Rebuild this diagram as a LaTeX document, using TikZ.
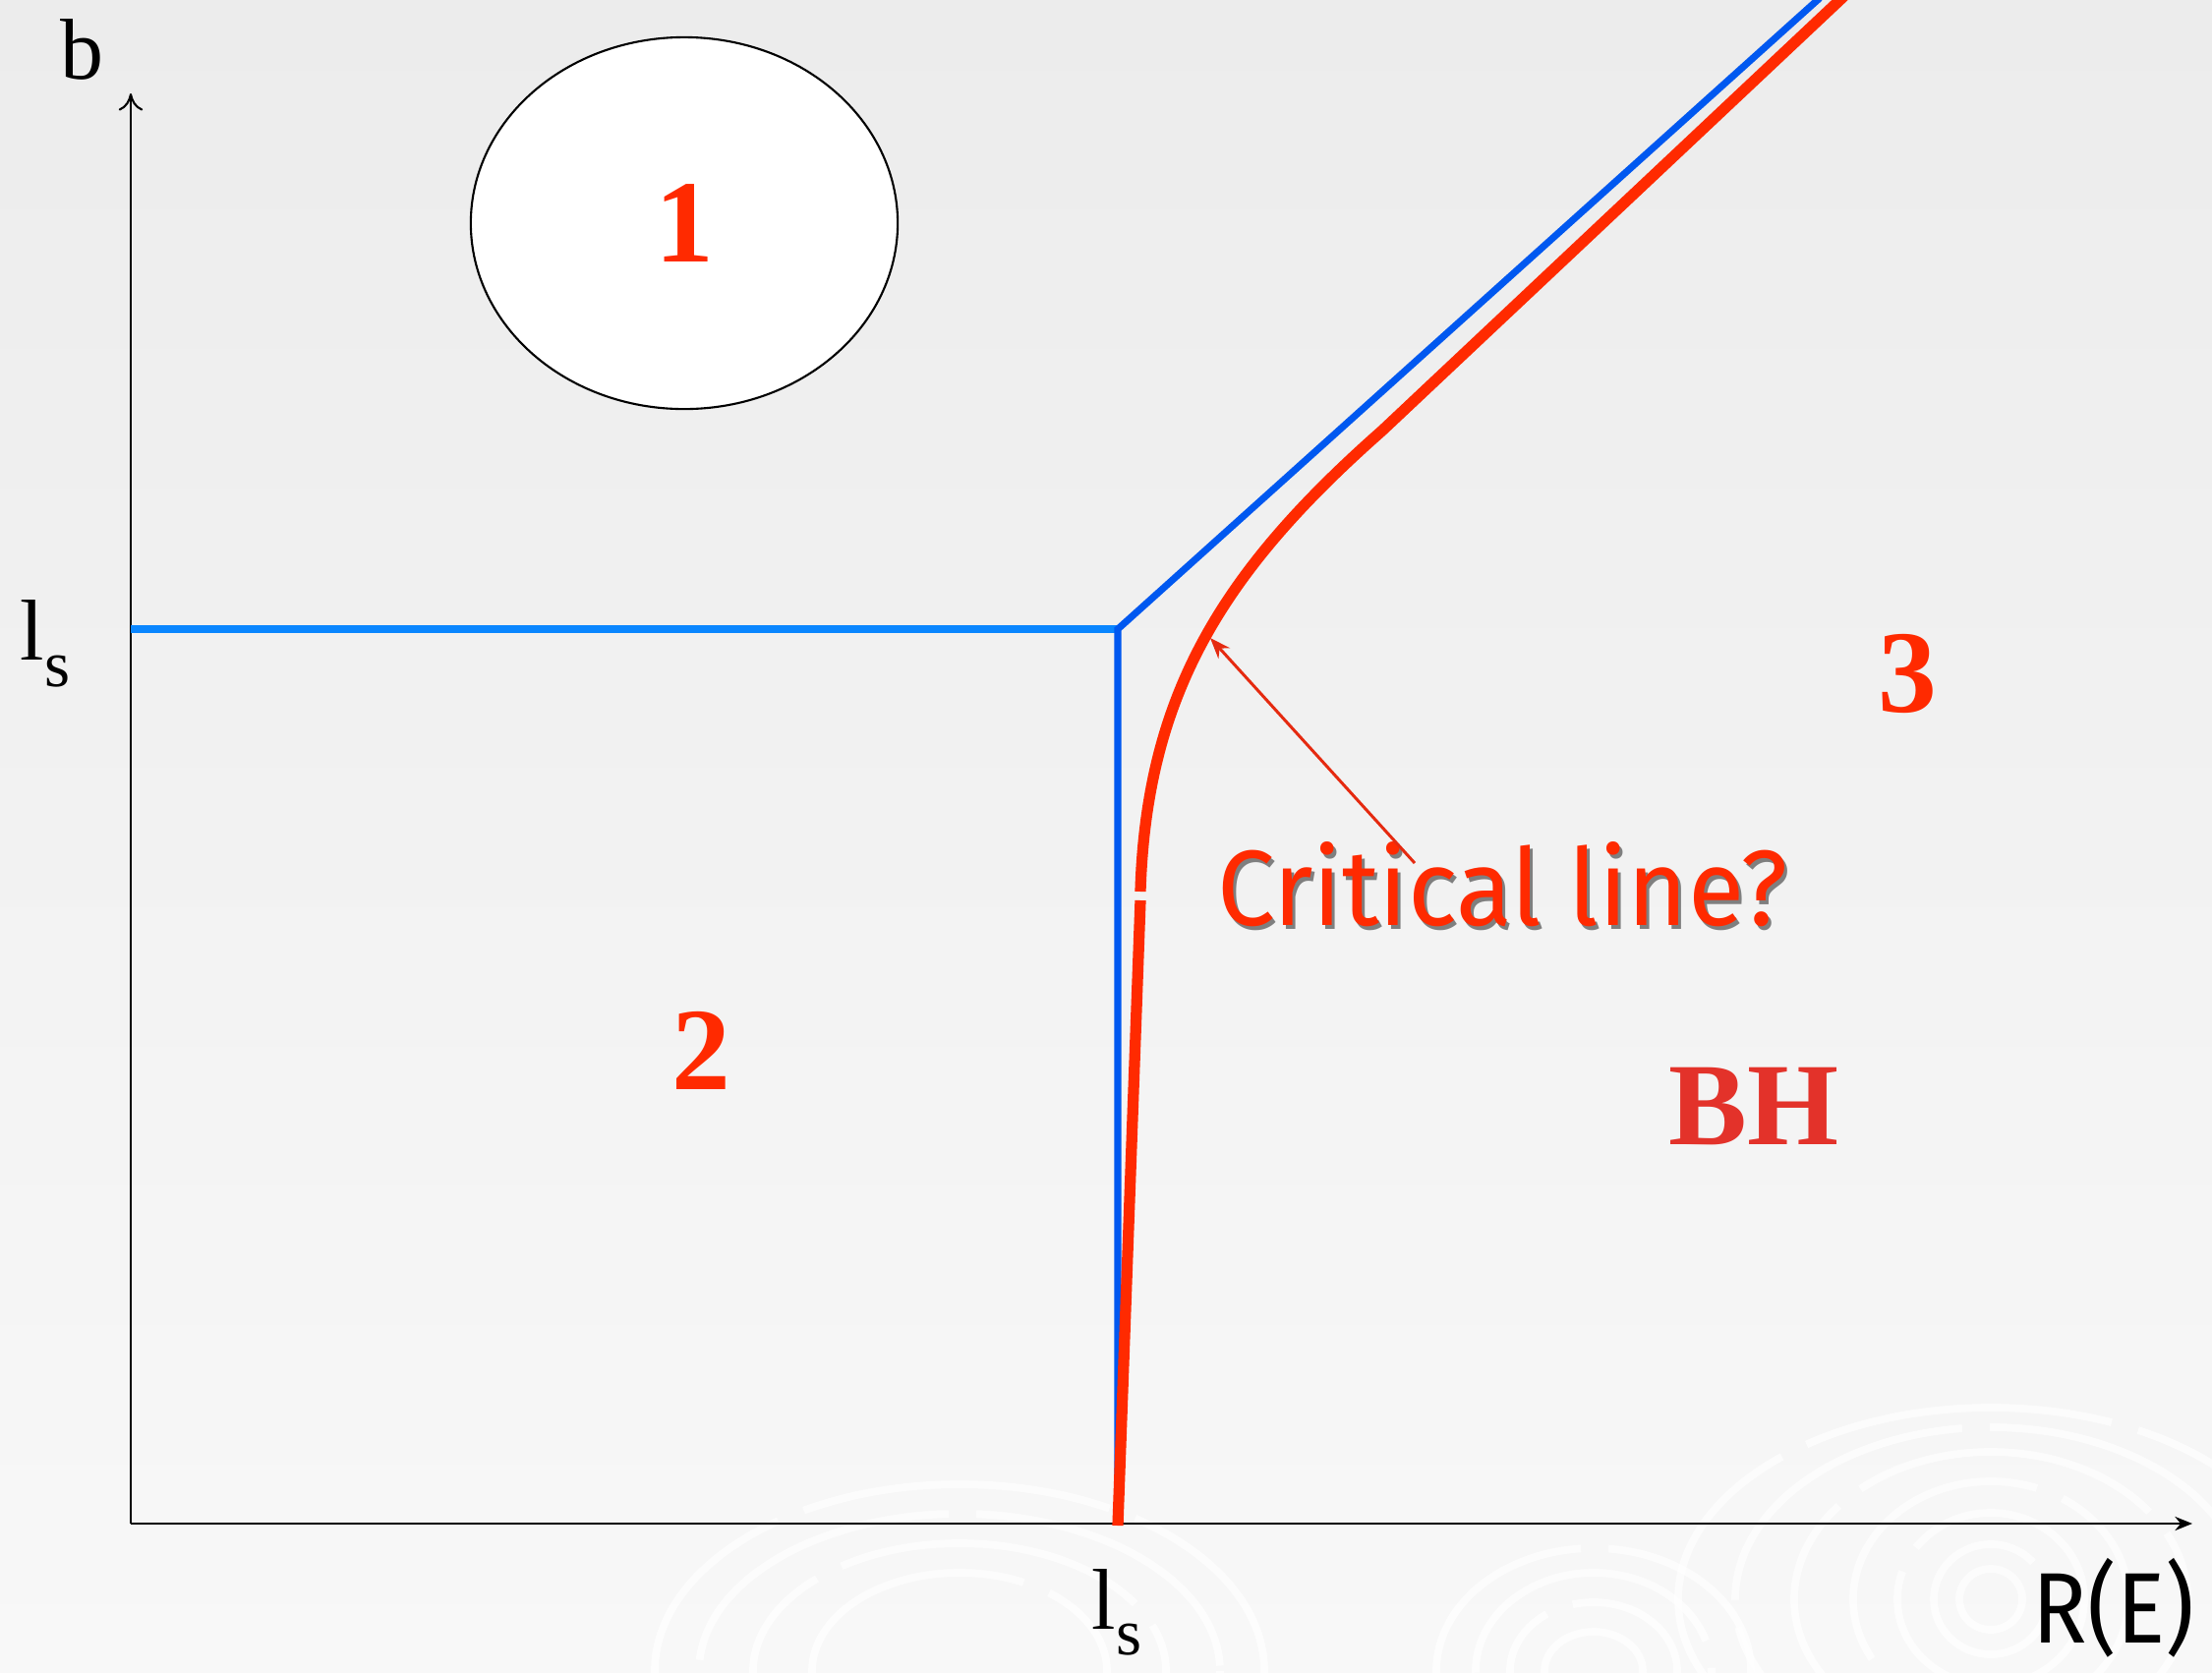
\documentclass[tikz,border=0pt]{standalone}
\usepackage{fontspec}
\setmainfont{Liberation Serif}
\newfontfamily\handfont{Fira Sans}
\usetikzlibrary{arrows.meta,positioning,shapes.geometric}
\definecolor{bgtop}{HTML}{ECECEC}
\definecolor{bgbot}{HTML}{F8F8F8}
\definecolor{regred}{HTML}{FF2A00}
\definecolor{bhred}{HTML}{E3322A}
\definecolor{arrowred}{HTML}{E52A10}
\definecolor{lightblue}{HTML}{0A86FF}
\definecolor{deepblue}{HTML}{0058F0}
\newcommand{\lsub}{l\raisebox{-.3em}{\fontsize{19}{19}\selectfont s}}
\begin{document}
\begin{tikzpicture}[x=0.01cm,y=-0.01cm,
 regionnum/.style={text=regred,font=\fontsize{34}{34}\selectfont\bfseries},
 axislab/.style={font=\fontsize{25}{25}\selectfont,inner sep=0pt},
 handlab/.style={font=\handfont\fontsize{31}{31}\selectfont,inner sep=0pt},
 bluebound/.style={line width=2pt,line cap=butt},
 redbound/.style={regred,line width=3.2pt},
 swirl/.style={white,line width=2.2pt,opacity=.75,dash pattern=on 90pt off 8pt}]
\useasboundingbox (0,0) rectangle (2250,1702);
\shade[top color=bgtop,bottom color=bgbot] (0,0) rectangle (2250,1702);
% background swirls
\foreach \rx/\ry in {32/31,58/56,95/88,140/120,200/150,260/175,318/195}
 \draw[swirl] (2025,1627) ellipse [x radius=\rx, y radius=\ry];
\foreach \rx/\ry in {50/40,85/70,120/100,160/125}
 \draw[swirl] (1621,1700) ellipse [x radius=\rx, y radius=\ry];
\foreach \rx/\ry in {150/100,210/130,265/160,310/190}
 \draw[swirl] (976,1700) ellipse [x radius=\rx, y radius=\ry];
% axes
\coordinate (O) at (133,1550);
\coordinate (ytop) at (133,95);
\coordinate (xend) at (2230,1550);
\draw[line width=.6pt,-{To[length=5pt,width=7pt]}] (O) -- (ytop);
\draw[line width=.8pt,-{Stealth[length=5pt,width=4pt]}] (O) -- (xend);
\node[axislab] (blab) at (83,50) {b};
\node[axislab] (lsleft) at (46,655) {\lsub};
\node[axislab] (lsbot) at (1136,1640) {\lsub};
\node[handlab,font=\handfont\fontsize{29}{29}\selectfont] (Rlab) at (2150,1636) {\scalebox{.9}[1]{R(E)}};
% region 1
\node[draw,ellipse,fill=white,line width=.6pt,minimum width=4.34cm,minimum height=3.78cm,regionnum] (zone1) at (696,227) {1};
% boundaries
\coordinate (bleft) at (133,640);
\coordinate (corner) at (1137,640);
\coordinate (cbot) at (1137,1550);
\coordinate (btop) at (1851,-2);
\draw[bluebound,lightblue] (bleft) -- (corner);
\draw[bluebound,deepblue] (cbot) -- (corner) -- (btop);
\draw[redbound] (1137,1552) -- (1160,916);
\draw[redbound] (1160,907) .. controls (1166,705) and (1245,580) .. (1406,438) -- (1880,-8);
% labels
\node[regionnum] (zone2) at (713,1069) {2};
\node[regionnum] (zone3) at (1940,685) {3};
\node[text=bhred,font=\fontsize{34}{34}\selectfont\bfseries] (bh) at (1784,1126) {BH};
\node[handlab,text=black!80,opacity=.6] (critshadow) at (1531,904) {\scalebox{.96}[1]{Critical line?}};
\node[handlab,text=regred] (crit) at (1528,900) {\scalebox{.96}[1]{Critical line?}};
\coordinate (crittail) at (1439,878);
\coordinate (crittip) at (1231,649);
\draw[arrowred,line width=.85pt,-{Stealth[length=6pt,width=4.5pt]}] (crittail) -- (crittip);
\end{tikzpicture}
\end{document}
